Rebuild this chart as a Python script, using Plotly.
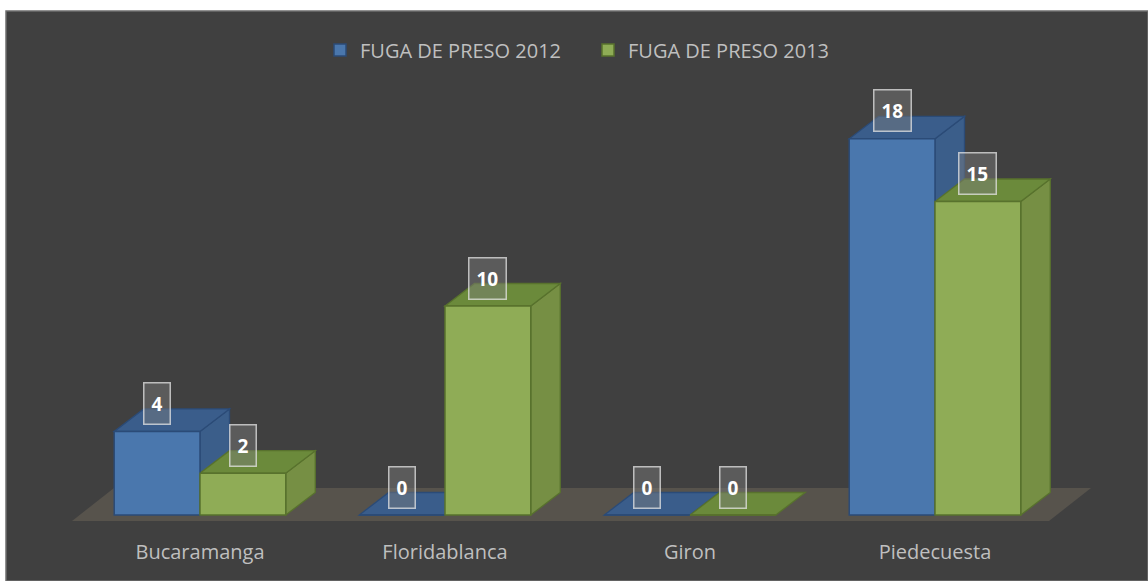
import plotly.graph_objects as go

# ---- data ----
categories = ["Bucaramanga", "Floridablanca", "Giron", "Piedecuesta"]
series_names = ["FUGA DE PRESO 2012", "FUGA DE PRESO 2013"]
fuga_2012 = [4, 0, 0, 18]
fuga_2013 = [2, 10, 0, 15]

# ---- styling / geometry (pixels -> data units) ----
W, H = 1148, 581
PX_X = 245.0          # pixels per category
PX_Y = 20.9           # pixels per unit value
BAR_W = 0.35          # bar width in category units
DX = 29.5 / PX_X      # depth offset (x)
DY = 22.5 / PX_Y      # depth offset (y)
MB = 50
plot_h = H - MB
x_range = [-200 / PX_X, (W - 200) / PX_X]
y_range = [-(plot_h - 515) / PX_Y, 515 / PX_Y]

styles = [
    dict(front="#4a77ad", top="#3a5d8b", side="#3b5e8a", edge="#2b4b77", offset=-BAR_W),
    dict(front="#8fac56", top="#6b8a3b", side="#768f44", edge="#58722d", offset=0.0),
]
series_values = [fuga_2012, fuga_2013]
xpos = list(range(len(categories)))


def poly(xs, ys):
    return "M" + " L".join(f"{x},{y}" for x, y in zip(xs, ys)) + " Z"


# chart background frame (paper)
shapes = [dict(
    type="rect", xref="paper", yref="paper", layer="below",
    x0=6 / W, x1=1.0, y0=1 - H / plot_h, y1=1 - 11 / plot_h,
    fillcolor="#404040", line=dict(color="#6e6e6e", width=1.5))]

# floor slab
fx0, fx1 = -0.5 - 0.0224, len(categories) - 0.5 - 0.0347
fdx, fy0, fy1 = 42 / PX_X, -6 / PX_Y, 27 / PX_Y
shapes.append(dict(
    type="path", xref="x", yref="y", layer="below",
    path=poly([fx0, fx1, fx1 + fdx, fx0 + fdx], [fy0, fy0, fy1, fy1]),
    fillcolor="#57534c", line=dict(width=0)))

fig = go.Figure()
annotations = []
for name, vals, st in zip(series_names, series_values, styles):
    for xi, v in zip(xpos, vals):
        xl = xi + st["offset"]
        xr = xl + BAR_W
        if v > 0:
            # side face
            shapes.append(dict(
                type="path", xref="x", yref="y", layer="below",
                path=poly([xr, xr + DX, xr + DX, xr], [0, DY, v + DY, v]),
                fillcolor=st["side"], line=dict(width=1.3, color=st["edge"])))
        # top face
        shapes.append(dict(
            type="path", xref="x", yref="y", layer="below",
            path=poly([xl, xr, xr + DX, xl + DX], [v, v, v + DY, v + DY]),
            fillcolor=st["top"], line=dict(width=1.3, color=st["edge"])))
        annotations.append(dict(
            x=xl + BAR_W / 2, y=v, xref="x", yref="y", yshift=28,
            text=f"<b>{v}</b>", showarrow=False,
            font=dict(family="Open Sans", size=19, color="#ffffff"),
            bgcolor="rgba(125,125,125,0.45)",
            bordercolor="rgba(230,230,230,0.75)", borderwidth=1.5, borderpad=7))
    # front faces (library bars)
    fig.add_trace(go.Bar(
        x=xpos, y=vals, name=name, width=BAR_W, offset=st["offset"],
        marker=dict(color=st["front"], line=dict(color=st["edge"], width=1.5)),
        hoverinfo="skip"))

fig.update_layout(
    width=W, height=H,
    margin=dict(l=0, r=0, t=0, b=MB, pad=0),
    paper_bgcolor="#ffffff", plot_bgcolor="rgba(0,0,0,0)",
    barmode="overlay",
    font=dict(family="Open Sans", color="#bfbfbf", size=20),
    shapes=shapes, annotations=annotations,
    xaxis=dict(range=x_range, tickvals=xpos, ticktext=categories,
               showgrid=False, zeroline=False, showline=False,
               ticks="outside", ticklen=3, tickcolor="rgba(0,0,0,0)",
               tickfont=dict(size=20, color="#bfbfbf"), fixedrange=True),
    yaxis=dict(range=y_range, visible=False, fixedrange=True),
    legend=dict(orientation="h", x=320 / W, xanchor="left",
                y=1 - 50 / plot_h, yanchor="middle",
                entrywidth=223, entrywidthmode="pixels",
                font=dict(size=20, color="#bfbfbf"),
                bgcolor="rgba(0,0,0,0)", traceorder="normal"),
)

fig.write_html("out.html", config={"displayModeBar": False},
               post_script="document.body.style.margin='0';")
